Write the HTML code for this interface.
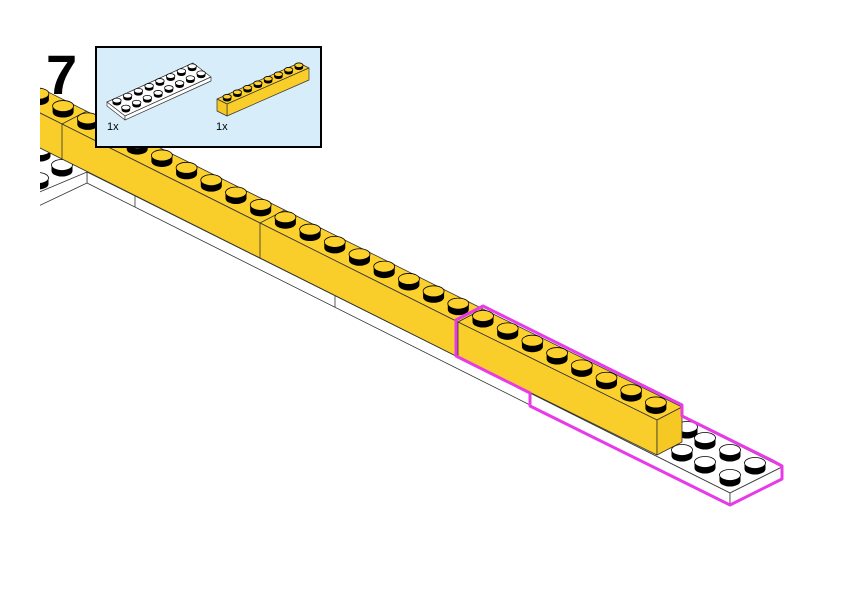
<!DOCTYPE html>
<html><head><meta charset="utf-8"><style>
html,body{margin:0;padding:0;background:#fff;width:842px;height:596px;overflow:hidden}
svg{display:block}
</style></head><body>
<svg id="s" width="842" height="596" viewBox="0 0 842 596" xmlns="http://www.w3.org/2000/svg">
<defs><clipPath id="c"><rect x="40" y="0" width="802" height="596"/></clipPath></defs>
<g clip-path="url(#c)">
<g stroke="#333" stroke-width="0.8" stroke-linejoin="round">
<polygon points="30,140 87,112 87,172 40,192 30,196" fill="#fff" stroke="none"/>
<polygon points="87,172 530,393 530,405 87,183" fill="#fff"/>
<polygon points="30,196 87,172 87,183 30,210" fill="#fff"/>
<line x1="135" y1="196" x2="135" y2="207"/>
<line x1="335" y1="296" x2="335" y2="307"/>
</g>
<g id="lstuds"></g>
<g stroke="#333" stroke-width="0.8" stroke-linejoin="round">
<polygon points="30,83 483,309 458,322 30,108" fill="#fcd12d"/>
<polygon points="30,108 458,322 458,357 30,143" fill="#f9cd2a"/>
<line x1="62" y1="124" x2="62" y2="159"/>
<line x1="62" y1="124" x2="87" y2="111"/>
<line x1="260" y1="223" x2="260" y2="258"/>
<line x1="260" y1="223" x2="285" y2="210"/>
</g>
<g id="ostuds"></g>
</g>
<g stroke="#333" stroke-width="0.8" stroke-linejoin="round">
<polygon points="530,393 730,493 782,467 582,367" fill="#fff"/>
<polygon points="530,393 730,493 730,505 530,405" fill="#fff"/>
<polygon points="730,493 782,467 782,479 730,505" fill="#fff"/>
</g>
<g id="pstuds"></g>
<g stroke="#333" stroke-width="0.8" stroke-linejoin="round">
<polygon points="458,322 657,420 682,407 483,309" fill="#fcd12d"/>
<polygon points="458,322 657,420 657,455 458,357" fill="#f9cd2a"/>
<polygon points="657,420 682,407 682,442 657,455" fill="#f5c824"/>
</g>
<g id="nstuds"></g>
<path d="M456,320 L483,306 L682,405 L682,416 L771,460 L782,466 L782,479 L730,505 L530,406 L530,393 L456,356 Z" fill="none" stroke="#e83be8" stroke-width="3" stroke-linejoin="round"/>
<rect x="96" y="47" width="225" height="100" fill="#d7eefa" stroke="#000" stroke-width="2"/>
<g stroke="#333" stroke-width="0.7" stroke-linejoin="round">
<polygon points="107,102 193,63 211,77 125,116" fill="#fff"/>
<polygon points="107,102 125,116 125,120 107,106" fill="#fff"/>
<polygon points="125,116 211,77 211,81 125,120" fill="#fff"/>
<polygon points="217,99 299,63 309,68 227,104" fill="#fcd12d"/>
<polygon points="227,104 309,68 309,80 227,116" fill="#f9cd2a"/>
<polygon points="217,99 227,104 227,116 217,111" fill="#f5c824"/>
</g>
<g id="istuds"></g>
<text x="107" y="130" font-family="Liberation Sans, sans-serif" font-size="11" fill="#000">1x</text>
<text x="216" y="130" font-family="Liberation Sans, sans-serif" font-size="11" fill="#000">1x</text>
<text x="46" y="94" font-family="Liberation Sans, sans-serif" font-size="56" font-weight="bold" fill="#000">7</text>
</svg>
<script>
var NS="http://www.w3.org/2000/svg";
function stud(g,cx,cy,col,rx,ry,h){
 rx=rx||10.5;ry=ry||5.5;h=h||6;
 var p=document.createElementNS(NS,"path");
 p.setAttribute("d","M"+(cx-rx)+","+cy+" L"+(cx-rx)+","+(cy+h)+" A"+rx+","+ry+" 0 0 0 "+(cx+rx)+","+(cy+h)+" L"+(cx+rx)+","+cy+" Z");
 p.setAttribute("fill","#000");g.appendChild(p);
 var e=document.createElementNS(NS,"ellipse");
 e.setAttribute("cx",cx);e.setAttribute("cy",cy);e.setAttribute("rx",rx);e.setAttribute("ry",ry);
 e.setAttribute("fill",col);e.setAttribute("stroke","#000");e.setAttribute("stroke-width","0.8");g.appendChild(e);
}
var dx=24.7,dy=12.35;
var o=document.getElementById("ostuds");
for(var k=-18;k<0;k++){stud(o,483+k*dx,316+k*dy,"#fcd12d");}
var n=document.getElementById("nstuds");
for(var k=0;k<8;k++){stud(n,483+k*dx,316+k*dy,"#fcd12d");}
var ps=document.getElementById("pstuds");
[[687,427],[705,438],[730,450],[755,463]].forEach(function(c){stud(ps,c[0],c[1],"#fff");});
[[682,450],[705,462],[730,475]].forEach(function(c){stud(ps,c[0],c[1],"#fff");});
var ls=document.getElementById("lstuds");
stud(ls,40,150,"#fff");stud(ls,62,165,"#fff");stud(ls,38,178,"#fff");
var is=document.getElementById("istuds");
// plate: length vec (10.75,-4.9) depth vec (9,7)
for(var j=0;j<2;j++)for(var i=7;i>=0;i--){}
for(var j=0;j<2;j++){for(var i=0;i<8;i++){
 var x=107+(i+0.5)*10.75+(j+0.5)*9, y=102-(i+0.5)*4.9+(j+0.5)*7-2.5;
 stud(is,x,y,"#fff",4.3,2.4,2.5);
}}
for(var i=0;i<8;i++){
 var x=217+(i+0.5)*10.25+5, y=99-(i+0.5)*4.5+2.5-2.5;
 stud(is,x,y,"#fcd12d",4.2,2.3,2.5);
}
</script>
</body></html>
